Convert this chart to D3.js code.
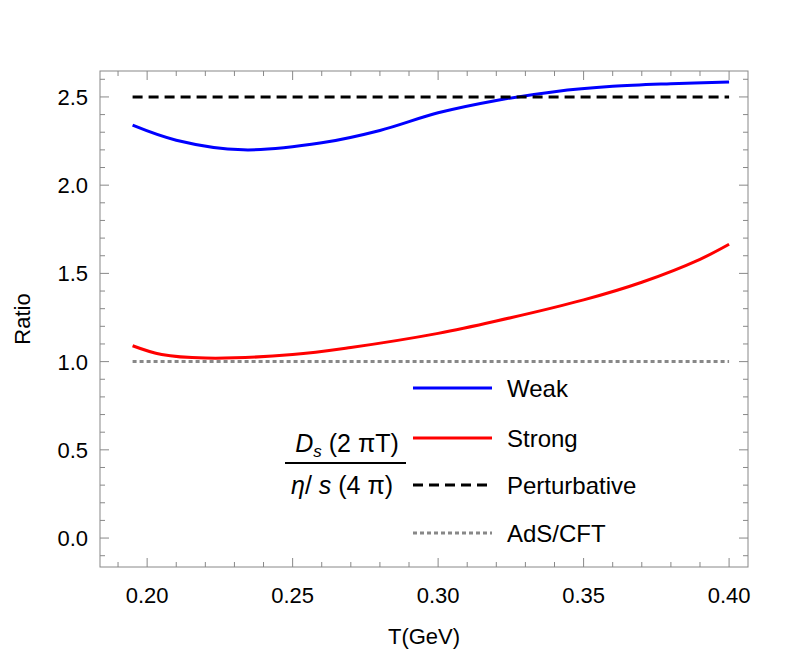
<!DOCTYPE html>
<html><head><meta charset="utf-8">
<script src="https://cdn.jsdelivr.net/npm/d3@7"></script>
<style>body{margin:0;background:#fff}text{font-family:"Liberation Sans",Arial,sans-serif}</style>
</head><body><svg id="c" width="789" height="660"></svg>
<script>
const tWeak = [0.195,0.21,0.233,0.26,0.28,0.30,0.32,0.34,0.36,0.38,0.40];
const weak  = [2.34,2.255,2.20,2.24,2.31,2.41,2.48,2.53,2.56,2.575,2.585];
const tStrong = [0.195,0.205,0.22,0.25,0.27,0.30,0.32,0.35,0.37,0.39,0.40];
const strong  = [1.09,1.04,1.02,1.04,1.08,1.16,1.23,1.35,1.45,1.58,1.665];
const tRange = [0.195,0.40];
const perturbative = 2.5, adsCft = 1.0;
const legendLabels = ["Weak","Strong","Perturbative","AdS/CFT"];

const svg = d3.select("#c");
const L=100,R=748,T=71,B=567;
const x = d3.scaleLinear().domain([0.1838,0.4065]).range([L,R]);
const y = d3.scaleLinear().domain([-0.164,2.647]).range([B,T]);
const gray="#888";

svg.append("rect").attr("x",L).attr("y",T).attr("width",R-L).attr("height",B-T)
  .attr("fill","none").attr("stroke",gray).attr("stroke-width",1);

// ticks (inward, mirrored)
const xMaj=d3.range(0.20,0.401,0.05), xMin=d3.range(0.19,0.406,0.01);
const yMaj=d3.range(0,2.51,0.5), yMin=d3.range(-0.1,2.61,0.1);
const tk=svg.append("g").attr("stroke",gray);
xMin.forEach(v=>{const len=xMaj.some(m=>Math.abs(m-v)<1e-6)?9:5;
  tk.append("line").attr("x1",x(v)).attr("x2",x(v)).attr("y1",B).attr("y2",B-len);
  tk.append("line").attr("x1",x(v)).attr("x2",x(v)).attr("y1",T).attr("y2",T+len);});
yMin.forEach(v=>{const len=yMaj.some(m=>Math.abs(m-v)<1e-6)?9:5;
  tk.append("line").attr("y1",y(v)).attr("y2",y(v)).attr("x1",L).attr("x2",L+len);
  tk.append("line").attr("y1",y(v)).attr("y2",y(v)).attr("x1",R).attr("x2",R-len);});
xMaj.forEach(v=>svg.append("text").attr("x",x(v)).attr("y",B+36).attr("text-anchor","middle")
  .attr("font-size",22).text(d3.format(".2f")(v)));
yMaj.forEach(v=>svg.append("text").attr("x",L-12).attr("y",y(v)+8).attr("text-anchor","end")
  .attr("font-size",22).text(d3.format(".1f")(v)));
svg.append("text").attr("x",(L+R)/2).attr("y",644).attr("text-anchor","middle").attr("font-size",22).text("T(GeV)");
svg.append("text").attr("transform","translate(30,"+((T+B)/2)+") rotate(-90)").attr("text-anchor","middle").attr("font-size",22).text("Ratio");

const line=d3.line().x(d=>x(d[0])).y(d=>y(d[1])).curve(d3.curveCatmullRom);
svg.append("path").datum(tWeak.map((t,i)=>[t,weak[i]])).attr("d",line).attr("fill","none").attr("stroke","#0000ff").attr("stroke-width",3);
svg.append("path").datum(tStrong.map((t,i)=>[t,strong[i]])).attr("d",line).attr("fill","none").attr("stroke","#ff0000").attr("stroke-width",3);
svg.append("path").datum(tRange.map(t=>[t,perturbative])).attr("d",line).attr("fill","none").attr("stroke","#000").attr("stroke-width",3).attr("stroke-dasharray","10,6");
svg.append("path").datum(tRange.map(t=>[t,adsCft])).attr("d",line).attr("fill","none").attr("stroke",gray).attr("stroke-width",3).attr("stroke-dasharray","4,3");

// legend
const styles=[["#0000ff",null],["#ff0000",null],["#000","10,6"],[gray,"4,3"]];
const ly=[388,438,485,533];
legendLabels.forEach((s,i)=>{
  svg.append("line").attr("x1",413).attr("x2",492).attr("y1",ly[i]).attr("y2",ly[i])
    .attr("stroke",styles[i][0]).attr("stroke-width",3).attr("stroke-dasharray",styles[i][1]);
  svg.append("text").attr("x",507).attr("y",ly[i]+9).attr("font-size",24).text(s);
});
// fraction label
const num=svg.append("text").attr("x",347).attr("y",452).attr("text-anchor","middle").attr("font-size",25);
num.append("tspan").attr("font-style","italic").text("D");
num.append("tspan").attr("font-style","italic").attr("font-size",17).attr("dy",5).text("s");
num.append("tspan").attr("dy",-5).text(" (2 πT)");
svg.append("line").attr("x1",285).attr("x2",406).attr("y1",463).attr("y2",463).attr("stroke","#000").attr("stroke-width",2);
const den=svg.append("text").attr("x",342).attr("y",494).attr("text-anchor","middle").attr("font-size",25);
den.append("tspan").attr("font-style","italic").text("η");
den.append("tspan").text("/ ");
den.append("tspan").attr("font-style","italic").text("s");
den.append("tspan").text(" (4 π)");
</script></body></html>
